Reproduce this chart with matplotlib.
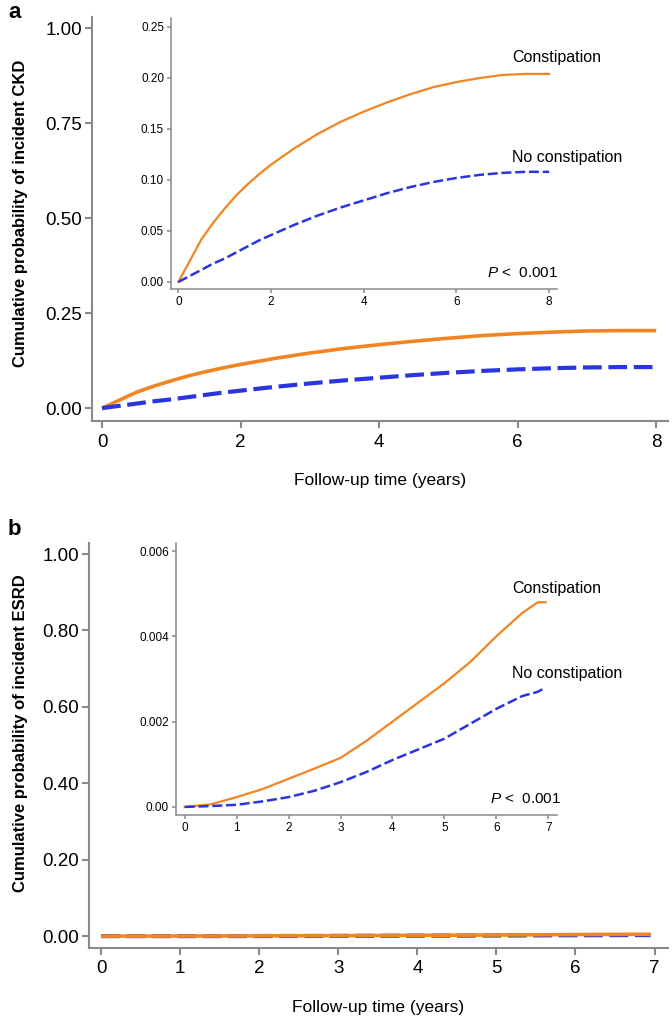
import matplotlib
matplotlib.use("Agg")
import matplotlib.pyplot as plt

plt.rcParams['font.family'] = ['Liberation Sans', 'DejaVu Sans']
plt.rcParams['mathtext.fontset'] = 'custom'
plt.rcParams['mathtext.it'] = 'Liberation Sans:italic'
plt.rcParams['mathtext.rm'] = 'Liberation Sans'

# panel a: incident CKD
years_ckd = [0, 0.25, 0.5, 0.75, 1, 1.25, 1.5, 1.75, 2, 2.5, 3, 3.5, 4, 4.5, 5, 5.5, 6, 6.5, 7, 7.5, 8]
ckd_constipation = [0, 0.021, 0.042, 0.058, 0.072, 0.085, 0.096, 0.106, 0.115, 0.131, 0.145,
                    0.157, 0.167, 0.176, 0.184, 0.191, 0.196, 0.200, 0.203, 0.204, 0.204]
ckd_no_constipation = [0, 0.006, 0.012, 0.018, 0.023, 0.029, 0.035, 0.041, 0.046, 0.056, 0.065,
                       0.073, 0.080, 0.087, 0.093, 0.098, 0.102, 0.105, 0.107, 0.108, 0.108]

# panel b: incident ESRD
years_esrd = [0, 0.5, 1, 1.5, 2, 2.5, 3, 3.5, 4, 4.5, 5, 5.5, 6, 6.5, 6.8, 6.95]
esrd_constipation = [0, 0.00006, 0.00023, 0.00042, 0.00066, 0.00090, 0.00115, 0.00155, 0.00200,
                     0.00245, 0.0029, 0.0034, 0.0040, 0.00455, 0.0048, 0.0048]
esrd_no_constipation = [0, 0.00002, 0.00005, 0.00013, 0.00023, 0.00038, 0.00058, 0.00082, 0.0011,
                        0.00135, 0.0016, 0.00195, 0.0023, 0.0026, 0.0027, 0.0028]

ckd_main_yticks = [0, 0.25, 0.5, 0.75, 1.0]
ckd_main_ylabels = ['0.00', '0.25', '0.50', '0.75', '1.00']
ckd_inset_yticks = [0, 0.05, 0.10, 0.15, 0.20, 0.25]
ckd_inset_ylabels = ['0.00', '0.05', '0.10', '0.15', '0.20', '0.25']
ckd_xticks = [0, 2, 4, 6, 8]

esrd_main_yticks = [0, 0.2, 0.4, 0.6, 0.8, 1.0]
esrd_main_ylabels = ['0.00', '0.20', '0.40', '0.60', '0.80', '1.00']
esrd_inset_yticks = [0, 0.002, 0.004, 0.006]
esrd_inset_ylabels = ['0.00', '0.002', '0.004', '0.006']
esrd_xticks = [0, 1, 2, 3, 4, 5, 6, 7]

ORANGE = '#F28522'
BLUE = '#2A35E0'
GREY = '#8A8A8A'


def style_axes(ax, tick_size, tick_len, spine_w):
    for side in ['top', 'right']:
        ax.spines[side].set_visible(False)
    for side in ['left', 'bottom']:
        ax.spines[side].set_color(GREY)
        ax.spines[side].set_linewidth(spine_w)
    ax.tick_params(colors=GREY, labelcolor='black', labelsize=tick_size, length=tick_len,
                   width=spine_w, pad=2)


def draw_panel(fig, main_rect, inset_rect, years, y_con, y_nocon, xticks, xlim,
               main_yticks, main_ylabels, ylim_main, inset_yticks, inset_ylabels, ylim_inset,
               ylabel, ylabel_y, letter, letter_y, orange_on_top):
    ax = fig.add_axes(main_rect)
    z_or, z_bl = (3, 2) if orange_on_top else (2, 3)
    ax.plot(years, y_con, color=ORANGE, lw=2.6, zorder=z_or, solid_capstyle='butt')
    ax.plot(years, y_nocon, color=BLUE, lw=3.0, dashes=(4.5, 1.6), zorder=z_bl)
    ax.set_xlim(*xlim)
    ax.set_ylim(*ylim_main)
    ax.set_xticks(xticks)
    ax.set_yticks(main_yticks)
    ax.set_yticklabels(main_ylabels)
    style_axes(ax, 13.5, 5, 1.5)
    ax.tick_params(axis='x', pad=4)
    ax.set_xlabel('Follow-up time (years)', fontsize=12.5, labelpad=16)
    fig.text(0.03, ylabel_y, ylabel, rotation=90, fontsize=12, fontweight='bold',
             ha='center', va='center')
    fig.text(0.012, letter_y, letter, fontsize=16, fontweight='bold', va='top')

    ins = fig.add_axes(inset_rect, zorder=5)
    ins.patch.set_alpha(0)
    ins.plot(years, y_con, color=ORANGE, lw=1.6)
    ins.plot(years, y_nocon, color=BLUE, lw=1.8, dashes=(4, 1.5))
    ins.set_xlim(xlim[0] * 1.1, xlim[1])
    ins.set_ylim(*ylim_inset)
    ins.set_xticks(xticks)
    ins.set_yticks(inset_yticks)
    ins.set_yticklabels(inset_ylabels)
    style_axes(ins, 8.5, 3, 1.1)
    return ins


fig = plt.figure(figsize=(6.72, 10.18), dpi=100)

ins_a = draw_panel(fig, [0.137, 0.5864, 0.857, 0.3969], [0.2545, 0.7161, 0.5744, 0.2662],
                   years_ckd, ckd_constipation, ckd_no_constipation, ckd_xticks, (-0.144, 8.17),
                   ckd_main_yticks, ckd_main_ylabels, (-0.034, 1.029),
                   ckd_inset_yticks, ckd_inset_ylabels, (-0.0069, 0.2588),
                   'Cumulative probability of incident CKD', 0.79, 'a', 0.998, False)
ins_a.text(7.2, 0.2196, 'Constipation', fontsize=11.5, ha='left', va='center')
ins_a.text(7.2, 0.1225, 'No constipation', fontsize=11.5, ha='left', va='center')
ins_a.text(8.19, 0.0088, r'$\it{P}$ <  0.001', fontsize=11, ha='right', va='center')

ins_b = draw_panel(fig, [0.1324, 0.0688, 0.8616, 0.3978], [0.2619, 0.1994, 0.567, 0.2672],
                   years_esrd, esrd_constipation, esrd_no_constipation, esrd_xticks, (-0.154, 7.17),
                   esrd_main_yticks, esrd_main_ylabels, (-0.031, 1.029),
                   esrd_inset_yticks, esrd_inset_ylabels, (-0.00019, 0.00619),
                   'Cumulative probability of incident ESRD', 0.28, 'b', 0.49, True)
ins_b.text(6.3, 0.00513, 'Constipation', fontsize=11.5, ha='left', va='center')
ins_b.text(6.3, 0.00314, 'No constipation', fontsize=11.5, ha='left', va='center')
ins_b.text(7.25, 0.00019, r'$\it{P}$ <  0.001', fontsize=11, ha='right', va='center')

fig.savefig('out.png', dpi=100)
